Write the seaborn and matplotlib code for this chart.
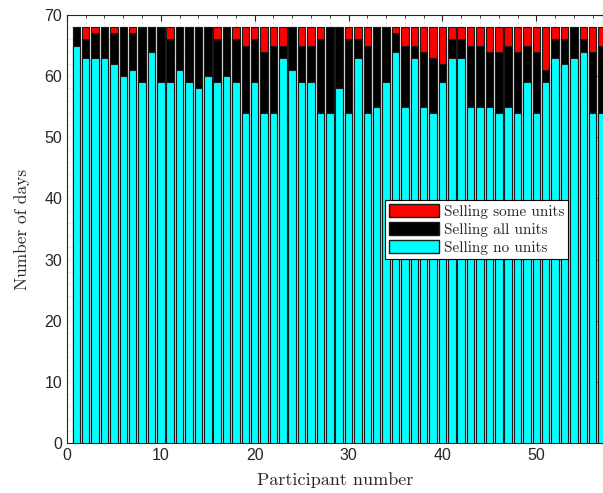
import matplotlib
matplotlib.use("Agg")
import matplotlib.pyplot as plt
from matplotlib.patches import Patch
from matplotlib.ticker import MultipleLocator
import numpy as np
import pandas as pd
import seaborn as sns

# days per participant (total is 68 days)
total_days = 68
participants = list(range(1, 58))
no_units = [65, 63, 63, 63, 62, 60, 61, 59, 64, 59,
            59, 61, 59, 58, 60, 59, 60, 59, 54, 59,
            54, 54, 63, 61, 59, 59, 54, 54, 58, 54,
            63, 54, 55, 59, 64, 55, 63, 55, 54, 59,
            63, 63, 55, 55, 55, 54, 55, 54, 59, 54,
            59, 63, 62, 63, 64, 54, 54]
some_units = [0, 2, 1, 0, 1, 0, 1, 0, 0, 0,
              2, 0, 0, 0, 0, 2, 0, 2, 3, 2,
              4, 3, 3, 0, 3, 3, 2, 0, 0, 2,
              2, 3, 0, 0, 1, 3, 3, 4, 5, 6,
              2, 2, 3, 3, 4, 4, 3, 4, 3, 4,
              7, 2, 2, 0, 2, 4, 3]
all_units = [total_days - n - s for n, s in zip(no_units, some_units)]

df = pd.DataFrame({"participant": participants,
                   "no": no_units, "all": all_units, "some": some_units})
df["no_all"] = df["no"] + df["all"]
df["total"] = df["no_all"] + df["some"]

sns.set_style("white")
plt.rcParams["font.family"] = ["Liberation Sans", "DejaVu Sans"]

fig = plt.figure(figsize=(6.03, 4.93), dpi=100)
ax = fig.add_axes([0.111, 0.1014, 0.889, 0.8682])

edge = "#1a1a1a"
# stacked bars drawn back to front
sns.barplot(data=df, x="participant", y="total", native_scale=True, width=0.8,
            color="#ff0000", saturation=1, edgecolor=edge, linewidth=0.8,
            errorbar=None, ax=ax, zorder=2)
sns.barplot(data=df, x="participant", y="no_all", native_scale=True, width=0.8,
            color="#000000", saturation=1, edgecolor=edge, linewidth=0.8,
            errorbar=None, ax=ax, zorder=3)
sns.barplot(data=df, x="participant", y="no", native_scale=True, width=0.8,
            color="#00ffff", saturation=1, edgecolor=edge, linewidth=0.8,
            errorbar=None, ax=ax, zorder=4)

ax.set_xlim(0, 57.1)
ax.set_ylim(0, 70)
ax.xaxis.set_major_locator(MultipleLocator(10))
ax.xaxis.set_minor_locator(MultipleLocator(2))
ax.yaxis.set_major_locator(MultipleLocator(10))
ax.yaxis.set_minor_locator(MultipleLocator(2))
ax.grid(which="both", linestyle=":", color="#c8c8c8", linewidth=0.6, zorder=0)
ax.set_axisbelow(True)
ax.tick_params(which="both", direction="in", top=True, right=True,
               labelsize=11.5, colors="#262626")
ax.tick_params(which="major", length=4)
ax.tick_params(which="minor", length=2)
for s in ax.spines.values():
    s.set_color("#262626")
    s.set_linewidth(0.8)

ax.set_xlabel("Participant number", fontfamily="cmr10", fontsize=13, labelpad=7)
ax.set_ylabel("Number of days", fontfamily="cmr10", fontsize=12.5, labelpad=10)

handles = [Patch(facecolor="#ff0000", edgecolor=edge, label="Selling some units"),
           Patch(facecolor="#000000", edgecolor=edge, label="Selling all units"),
           Patch(facecolor="#00ffff", edgecolor=edge, label="Selling no units")]
leg = ax.legend(handles=handles, loc="upper left", bbox_to_anchor=(0.593, 0.568),
                borderaxespad=0, fancybox=False, framealpha=1, edgecolor="black",
                prop={"family": "cmr10", "size": 11}, handlelength=3.3,
                handleheight=0.95, labelspacing=0.22, borderpad=0.25,
                handletextpad=0.3)
leg.get_frame().set_linewidth(0.8)

plt.savefig("out.png", dpi=100)
